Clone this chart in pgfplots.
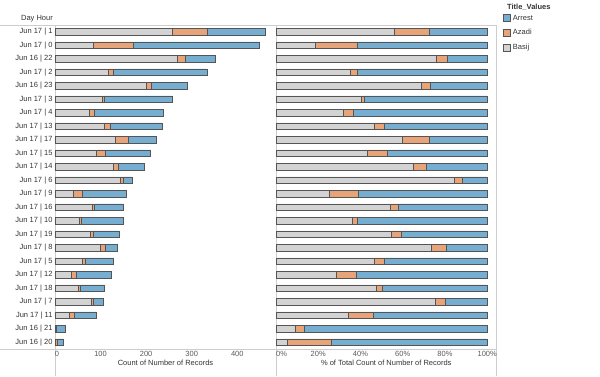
\documentclass[border=0pt]{standalone}
\usepackage{pgfplots}
\pgfplotsset{compat=1.18}
\usepackage{pgfplotstable}
\usepackage{fontspec}
\setmainfont{Liberation Sans}
\definecolor{arrestc}{RGB}{117,174,209}
\definecolor{azadic}{RGB}{232,164,121}
\definecolor{basijc}{RGB}{211,211,211}
\definecolor{edgec}{RGB}{85,85,85}
\definecolor{linec}{RGB}{205,205,205}
\definecolor{txtc}{RGB}{51,51,51}
\definecolor{tickc}{RGB}{90,90,90}

\pgfplotstableread{
idx B Az Ar PB PAz PAr
0 258 77 127 55.84 16.67 27.49
1 84 88 276 18.75 19.64 61.61
2 268 19 66 75.92 5.38 18.70
3 117 11 206 35.03 3.29 61.68
4 200 12 78 68.97 4.14 26.90
5 104 4 149 40.47 1.56 57.98
6 76 11 150 32.07 4.64 63.29
7 109 12 114 46.38 5.11 48.51
8 133 28 61 59.91 12.61 27.48
9 90 20 99 43.06 9.57 47.37
10 128 12 57 64.97 6.09 28.93
11 143 6 20 84.62 3.55 11.83
12 40 21 96 25.48 13.38 61.15
13 81 6 63 54.00 4.00 42.00
14 54 4 92 36.00 2.67 61.33
15 77 7 57 54.61 4.96 40.43
16 100 10 26 73.53 7.35 19.12
17 60 6 63 46.51 4.65 48.84
18 35 12 76 28.46 9.76 61.79
19 52 3 54 47.71 2.75 49.54
20 80 5 21 75.47 4.72 19.81
21 31 11 49 34.07 12.09 53.85
22 2 1 19 9.09 4.55 86.36
23 1 4 14 5.26 21.05 73.68
}\datatable

\pgfplotsset{
  common/.style={
    scale only axis,
    height=324pt,
    xbar stacked,
    bar width=6.6pt,
    y dir=reverse,
    ymin=-0.5, ymax=23.5,
    axis line style={draw=none},
    tick style={draw=none},
    every tick label/.append style={font=\fontsize{7.5}{9}\selectfont},
    xticklabel style={text=tickc, yshift=1pt},
    xlabel style={font=\fontsize{7.5}{9}\selectfont, text=txtc, yshift=4pt},
    clip=false,
  },
  segment/.style={fill=#1, draw=edgec, line width=0.75pt},
}

\begin{document}
\begin{tikzpicture}[x=1pt,y=1pt]
\path[use as bounding box] (0,0) rectangle (600,376);
% frame lines
\draw[linec, line width=0.6pt] (0,351) -- (496.5,351);
\draw[linec, line width=0.6pt] (0,27) -- (496.5,27);
\draw[linec, line width=0.6pt] (55,351) -- (55,0);
\draw[linec, line width=0.6pt] (276,351) -- (276,0);
\draw[linec, line width=0.6pt] (496.5,351) -- (496.5,0);
\node[anchor=east, font=\fontsize{7.5}{9}\selectfont, text=txtc, inner sep=0pt] at (53,357) {Day Hour};
\node[anchor=west, font=\fontsize{7.5}{9}\selectfont\bfseries, text=txtc, inner sep=0pt] at (507,369) {Title\_Values};

\begin{axis}[common,
  at={(55pt,27pt)}, anchor=south west,
  width=221pt,
  xmin=0, xmax=485,
  xtick={0,100,200,300,400},
  xticklabels={\hspace*{4pt}0,100,200,300,400},
  ytick={0,...,23},
  yticklabels={Jun 17 | 1, Jun 17 | 0, Jun 16 | 22, Jun 17 | 2, Jun 16 | 23, Jun 17 | 3, Jun 17 | 4, Jun 17 | 13, Jun 17 | 17, Jun 17 | 15, Jun 17 | 14, Jun 17 | 6, Jun 17 | 9, Jun 17 | 16, Jun 17 | 10, Jun 17 | 19, Jun 17 | 8, Jun 17 | 5, Jun 17 | 12, Jun 17 | 18, Jun 17 | 7, Jun 17 | 11, Jun 16 | 21, Jun 16 | 20},
  yticklabel style={text=txtc, xshift=1pt},
  xlabel={Count of Number of Records},
]
\addplot[segment=basijc] table[x=B, y=idx] {\datatable};
\addplot[segment=azadic] table[x=Az, y=idx] {\datatable};
\addplot[segment=arrestc] table[x=Ar, y=idx] {\datatable};
\end{axis}

\begin{axis}[common,
  at={(276pt,27pt)}, anchor=south west,
  width=220.5pt,
  xmin=0, xmax=104.4,
  xtick={0,20,40,60,80,100},
  xticklabels={\hspace*{11pt}0\%,20\%,40\%,60\%,80\%,100\%},
  ytick=\empty,
  xlabel={\% of Total Count of Number of Records},
  legend style={at={(1.03,1.038)}, anchor=north west, draw=none, fill=none,
    font=\fontsize{7.5}{9}\selectfont, text=txtc, inner sep=0pt,
    row sep=4pt, cells={anchor=west}},
]
\addlegendimage{legend image code/.code={\draw[fill=arrestc, draw=edgec, line width=0.6pt] (0pt,-3.5pt) rectangle (7pt,3.5pt);}}
\addlegendentry{Arrest}
\addlegendimage{legend image code/.code={\draw[fill=azadic, draw=edgec, line width=0.6pt] (0pt,-3.5pt) rectangle (7pt,3.5pt);}}
\addlegendentry{Azadi}
\addlegendimage{legend image code/.code={\draw[fill=basijc, draw=edgec, line width=0.6pt] (0pt,-3.5pt) rectangle (7pt,3.5pt);}}
\addlegendentry{Basij}
\addplot[segment=basijc, forget plot] table[x=PB, y=idx] {\datatable};
\addplot[segment=azadic, forget plot] table[x=PAz, y=idx] {\datatable};
\addplot[segment=arrestc, forget plot] table[x=PAr, y=idx] {\datatable};
\end{axis}
\end{tikzpicture}
\end{document}
